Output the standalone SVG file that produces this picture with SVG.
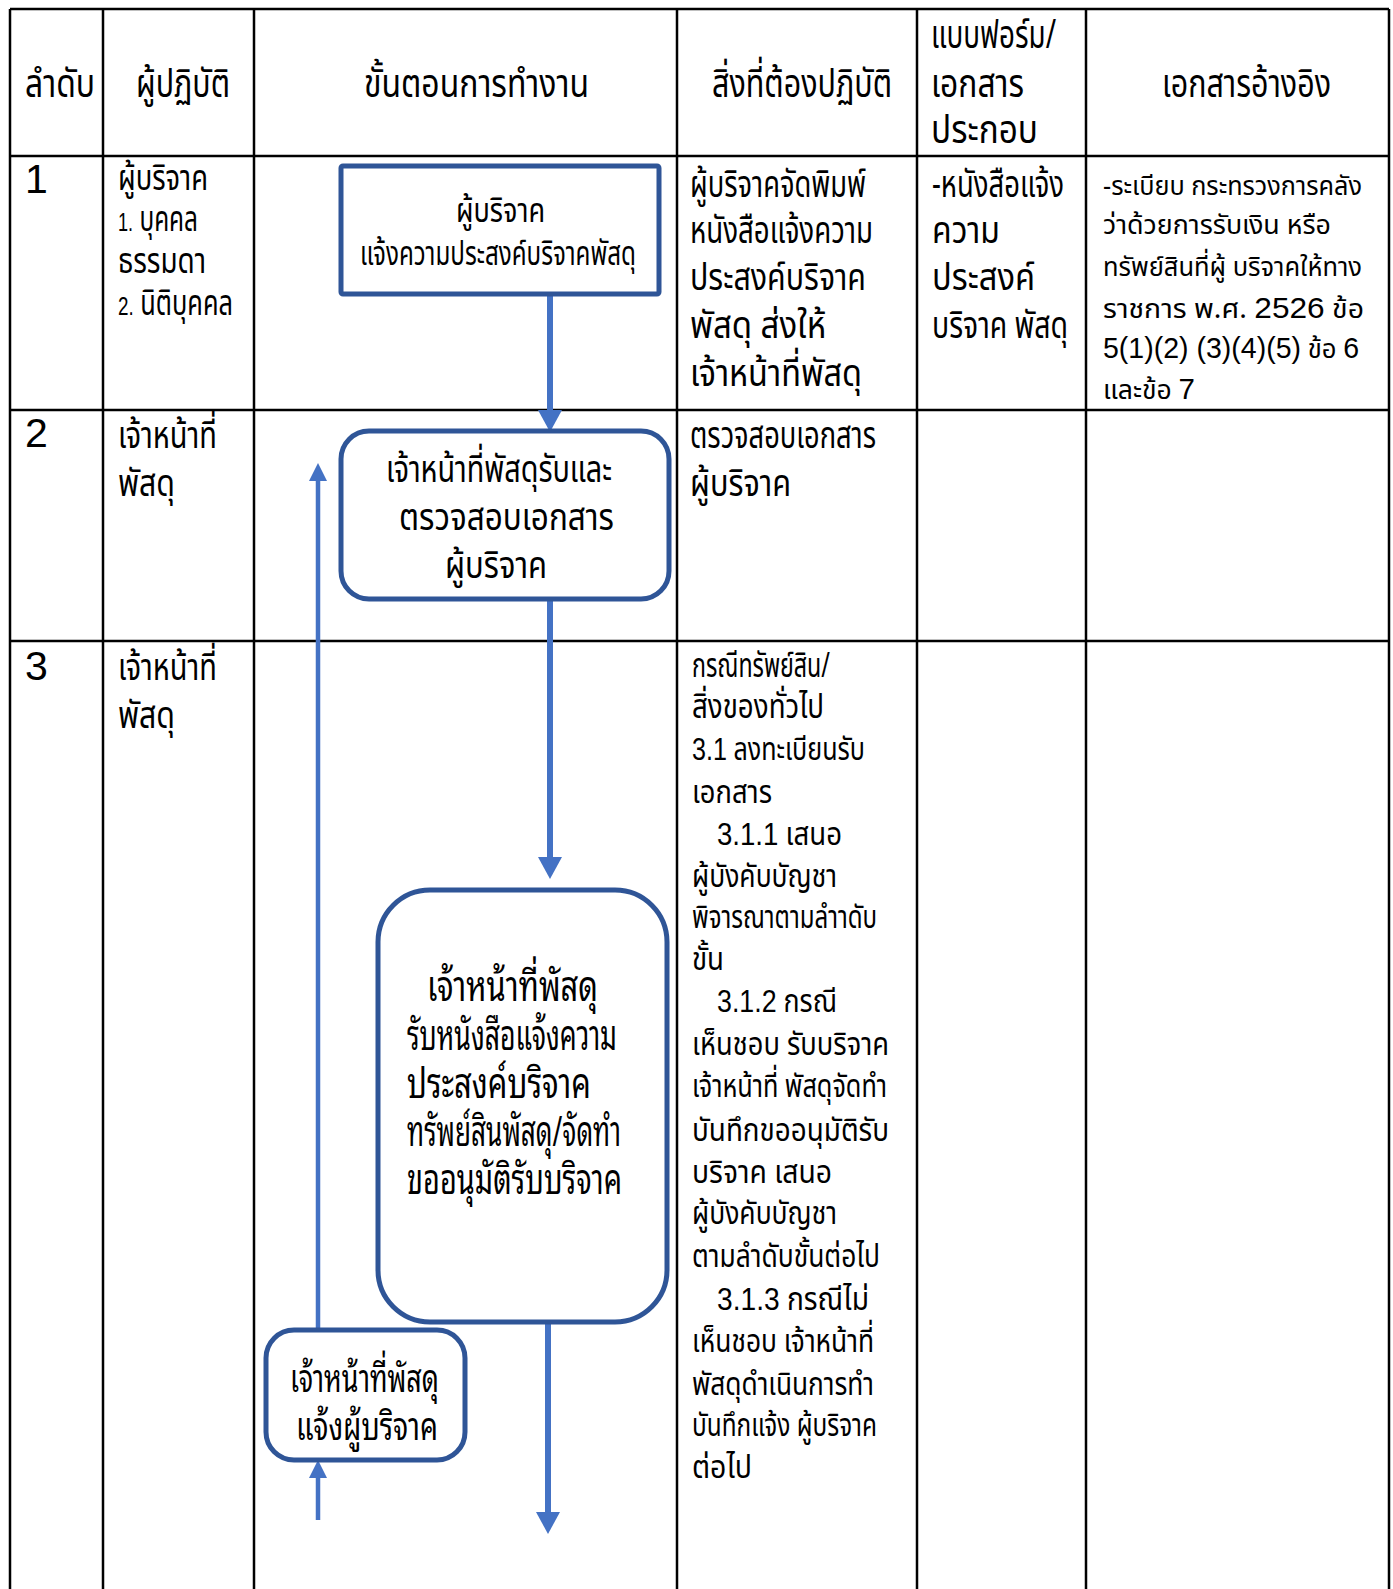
<svg xmlns="http://www.w3.org/2000/svg" width="1393" height="1589" viewBox="0 0 1393 1589">
<style>
.t{font-family:"Noto Sans Thai","Noto Sans Thai Looped","Noto Sans","DejaVu Sans",sans-serif;fill:#000}
.lp{font-family:"Noto Sans Thai Looped","Noto Sans Thai","Noto Sans","DejaVu Sans",sans-serif;fill:#000}
.n{font-family:"Liberation Sans",Arial,sans-serif}
.grid{stroke:#000;stroke-width:2.5;fill:none}
.box{fill:#fff;stroke:#2F5597;stroke-width:5}
.flow{stroke:#4472C4;fill:none}
</style>
<defs>
<marker id="ahBig" markerUnits="userSpaceOnUse" markerWidth="22" markerHeight="24" viewBox="0 0 22 24" refX="0" refY="12" orient="auto">
<path d="M0,0 L22,12 L0,24 Z" fill="#4472C4"/>
</marker>
<marker id="ahSmall" markerUnits="userSpaceOnUse" markerWidth="18" markerHeight="18" viewBox="0 0 18 18" refX="0" refY="9" orient="auto">
<path d="M0,0 L18,9 L0,18 Z" fill="#4472C4"/>
</marker>
</defs>
<rect width="1393" height="1589" fill="#fff"/>

<g id="table" class="grid">
<line x1="10" y1="9" x2="1389" y2="9"/>
<line x1="10" y1="156" x2="1389" y2="156"/>
<line x1="10" y1="410" x2="1389" y2="410"/>
<line x1="10" y1="641" x2="1389" y2="641"/>
<line x1="10" y1="9" x2="10" y2="1589"/>
<line x1="103" y1="9" x2="103" y2="1589"/>
<line x1="254" y1="9" x2="254" y2="1589"/>
<line x1="677" y1="9" x2="677" y2="1589"/>
<line x1="917" y1="9" x2="917" y2="1589"/>
<line x1="1086" y1="9" x2="1086" y2="1589"/>
<line x1="1389" y1="9" x2="1389" y2="1589"/>
</g>

<g id="header" class="t" font-size="40">
<text x="25" y="97" textLength="70" lengthAdjust="spacingAndGlyphs">ลำดับ</text>
<text x="136" y="97" textLength="94" lengthAdjust="spacingAndGlyphs">ผู้ปฏิบัติ</text>
<text x="364" y="97" textLength="225" lengthAdjust="spacingAndGlyphs">ขั้นตอนการทำงาน</text>
<text x="712" y="97" textLength="180" lengthAdjust="spacingAndGlyphs">สิ่งที่ต้องปฏิบัติ</text>
<text x="931" y="48" textLength="125" lengthAdjust="spacingAndGlyphs">แบบฟอร์ม/</text>
<text x="931" y="97" textLength="93" lengthAdjust="spacingAndGlyphs">เอกสาร</text>
<text x="931" y="143" textLength="107" lengthAdjust="spacingAndGlyphs">ประกอบ</text>
<text x="1162" y="97" textLength="169" lengthAdjust="spacingAndGlyphs">เอกสารอ้างอิง</text>
</g>

<g id="row1" class="t">
<text class="n" x="25" y="193" font-size="41">1</text>
<text x="118" y="190" font-size="35" textLength="90" lengthAdjust="spacingAndGlyphs">ผู้บริจาค</text>
<text x="118" y="231" font-size="35" textLength="80" lengthAdjust="spacingAndGlyphs"><tspan class="n" font-size="26">1.</tspan> บุคคล</text>
<text x="118" y="273" font-size="35" textLength="88" lengthAdjust="spacingAndGlyphs">ธรรมดา</text>
<text x="118" y="315" font-size="35" textLength="115" lengthAdjust="spacingAndGlyphs"><tspan class="n" font-size="26">2.</tspan> นิติบุคคล</text>
<g font-size="38">
<text x="690" y="197" textLength="176" lengthAdjust="spacingAndGlyphs">ผู้บริจาคจัดพิมพ์</text>
<text x="690" y="243" textLength="183" lengthAdjust="spacingAndGlyphs">หนังสือแจ้งความ</text>
<text x="690" y="290" textLength="176" lengthAdjust="spacingAndGlyphs">ประสงค์บริจาค</text>
<text x="690" y="338" textLength="136" lengthAdjust="spacingAndGlyphs">พัสดุ ส่งให้</text>
<text x="690" y="386" textLength="172" lengthAdjust="spacingAndGlyphs">เจ้าหน้าที่พัสดุ</text>
<text x="932" y="197" textLength="132" lengthAdjust="spacingAndGlyphs">-หนังสือแจ้ง</text>
<text x="932" y="243" textLength="68" lengthAdjust="spacingAndGlyphs">ความ</text>
<text x="932" y="290" textLength="103" lengthAdjust="spacingAndGlyphs">ประสงค์</text>
<text x="932" y="338" textLength="136" lengthAdjust="spacingAndGlyphs">บริจาค พัสดุ</text>
</g>
<g font-size="27">
<text x="1103" y="195" textLength="259" lengthAdjust="spacingAndGlyphs">-ระเบียบ กระทรวงการคลัง</text>
<text x="1103" y="234" textLength="228" lengthAdjust="spacingAndGlyphs">ว่าด้วยการรับเงิน หรือ</text>
<text x="1103" y="276" textLength="259" lengthAdjust="spacingAndGlyphs">ทรัพย์สินที่ผู้ บริจาคให้ทาง</text>
<text x="1103" y="318" textLength="261" lengthAdjust="spacingAndGlyphs">ราชการ พ.ศ. <tspan class="n" font-size="30">2526</tspan> ข้อ</text>
<text x="1103" y="358" textLength="256" lengthAdjust="spacingAndGlyphs"><tspan class="n" font-size="30">5(1)(2) (3)(4)(5)</tspan> ข้อ <tspan class="n" font-size="30">6</tspan></text>
<text x="1103" y="399" textLength="92" lengthAdjust="spacingAndGlyphs">และข้อ <tspan class="n" font-size="30">7</tspan></text>
</g>
</g>

<g id="row2" class="t">
<text class="n" x="25" y="447" font-size="41">2</text>
<text x="118" y="448" font-size="37" textLength="99" lengthAdjust="spacingAndGlyphs">เจ้าหน้าที่</text>
<text x="118" y="496" font-size="37" textLength="57" lengthAdjust="spacingAndGlyphs">พัสดุ</text>
<text x="690" y="448" font-size="38" textLength="186" lengthAdjust="spacingAndGlyphs">ตรวจสอบเอกสาร</text>
<text x="690" y="496" font-size="38" textLength="101" lengthAdjust="spacingAndGlyphs">ผู้บริจาค</text>
</g>

<g id="row3" class="t">
<text class="n" x="25" y="680" font-size="41">3</text>
<text x="118" y="680" font-size="37" textLength="99" lengthAdjust="spacingAndGlyphs">เจ้าหน้าที่</text>
<text x="118" y="728" font-size="37" textLength="57" lengthAdjust="spacingAndGlyphs">พัสดุ</text>
<g font-size="32">
<text x="692" y="677" font-size="34" textLength="138" lengthAdjust="spacingAndGlyphs">กรณีทรัพย์สิน/</text>
<text x="692" y="718" font-size="34" textLength="132" lengthAdjust="spacingAndGlyphs">สิ่งของทั่วไป</text>
<text x="692" y="760" textLength="173" lengthAdjust="spacingAndGlyphs"><tspan class="n">3.1</tspan> ลงทะเบียนรับ</text>
<text x="692" y="803" textLength="80" lengthAdjust="spacingAndGlyphs">เอกสาร</text>
<text x="717" y="845" textLength="125" lengthAdjust="spacingAndGlyphs"><tspan class="n">3.1.1</tspan> เสนอ</text>
<text x="692" y="887" textLength="145" lengthAdjust="spacingAndGlyphs">ผู้บังคับบัญชา</text>
<text x="692" y="928" textLength="185" lengthAdjust="spacingAndGlyphs">พิจารณาตามลำาดับ</text>
<text x="692" y="970" textLength="32" lengthAdjust="spacingAndGlyphs">ขั้น</text>
<text x="717" y="1012" textLength="120" lengthAdjust="spacingAndGlyphs"><tspan class="n">3.1.2</tspan> กรณี</text>
<text x="692" y="1055" textLength="197" lengthAdjust="spacingAndGlyphs">เห็นชอบ รับบริจาค</text>
<text x="692" y="1097" textLength="195" lengthAdjust="spacingAndGlyphs">เจ้าหน้าที่ พัสดุจัดทำ</text>
<text x="692" y="1141" textLength="197" lengthAdjust="spacingAndGlyphs">บันทึกขออนุมัติรับ</text>
<text x="692" y="1183" textLength="140" lengthAdjust="spacingAndGlyphs">บริจาค เสนอ</text>
<text x="692" y="1224" textLength="145" lengthAdjust="spacingAndGlyphs">ผู้บังคับบัญชา</text>
<text x="692" y="1267" textLength="188" lengthAdjust="spacingAndGlyphs">ตามลำดับขั้นต่อไป</text>
<text x="717" y="1310" textLength="152" lengthAdjust="spacingAndGlyphs"><tspan class="n">3.1.3</tspan> กรณีไม่</text>
<text x="692" y="1352" textLength="182" lengthAdjust="spacingAndGlyphs">เห็นชอบ เจ้าหน้าที่</text>
<text x="692" y="1395" textLength="182" lengthAdjust="spacingAndGlyphs">พัสดุดำเนินการทำ</text>
<text x="692" y="1436" textLength="185" lengthAdjust="spacingAndGlyphs">บันทึกแจ้ง ผู้บริจาค</text>
<text x="692" y="1478" textLength="60" lengthAdjust="spacingAndGlyphs">ต่อไป</text>
</g>
</g>

<g id="connectors">
<line class="flow" x1="550" y1="290" x2="550" y2="410" stroke-width="6" marker-end="url(#ahBig)"/>
<line class="flow" x1="550" y1="592" x2="550" y2="857" stroke-width="6" marker-end="url(#ahBig)"/>
<line class="flow" x1="548" y1="1316" x2="548" y2="1512" stroke-width="6" marker-end="url(#ahBig)"/>
<line class="flow" x1="318" y1="1330" x2="318" y2="481" stroke-width="4.5" marker-end="url(#ahSmall)"/>
<line class="flow" x1="318" y1="1520" x2="318" y2="1478" stroke-width="4.5" marker-end="url(#ahSmall)"/>
</g>

<g id="node-donor">
<rect class="box" x="341" y="166" width="318" height="128" rx="2"/>
<text class="t" x="456" y="222" font-size="33" textLength="89" lengthAdjust="spacingAndGlyphs">ผู้บริจาค</text>
<text class="t" x="360" y="265" font-size="33" textLength="276" lengthAdjust="spacingAndGlyphs">แจ้งความประสงค์บริจาคพัสดุ</text>
</g>

<g id="node-check">
<rect class="box" x="341" y="431" width="328" height="168" rx="28"/>
<text class="t" x="386" y="482" font-size="38" textLength="226" lengthAdjust="spacingAndGlyphs">เจ้าหน้าที่พัสดุรับและ</text>
<text class="t" x="399" y="530" font-size="38" textLength="215" lengthAdjust="spacingAndGlyphs">ตรวจสอบเอกสาร</text>
<text class="t" x="445" y="578" font-size="38" textLength="102" lengthAdjust="spacingAndGlyphs">ผู้บริจาค</text>
</g>

<g id="node-approve">
<rect class="box" x="378" y="890" width="289" height="432" rx="52"/>
<g class="lp" font-size="42">
<text x="427" y="1001" textLength="171" lengthAdjust="spacingAndGlyphs">เจ้าหน้าที่พัสดุ</text>
<text x="407" y="1050" textLength="210" lengthAdjust="spacingAndGlyphs">รับหนังสือแจ้งความ</text>
<text x="407" y="1098" textLength="184" lengthAdjust="spacingAndGlyphs">ประสงค์บริจาค</text>
<text x="407" y="1146" textLength="214" lengthAdjust="spacingAndGlyphs">ทรัพย์สินพัสดุ/จัดทำ</text>
<text x="407" y="1194" textLength="215" lengthAdjust="spacingAndGlyphs">ขออนุมัติรับบริจาค</text>
</g>
</g>

<g id="node-notify">
<rect class="box" x="266" y="1330" width="199" height="130" rx="28"/>
<g class="lp" font-size="39">
<text x="290" y="1392" textLength="149" lengthAdjust="spacingAndGlyphs">เจ้าหน้าที่พัสดุ</text>
<text x="296" y="1440" textLength="142" lengthAdjust="spacingAndGlyphs">แจ้งผู้บริจาค</text>
</g>
</g>
</svg>
